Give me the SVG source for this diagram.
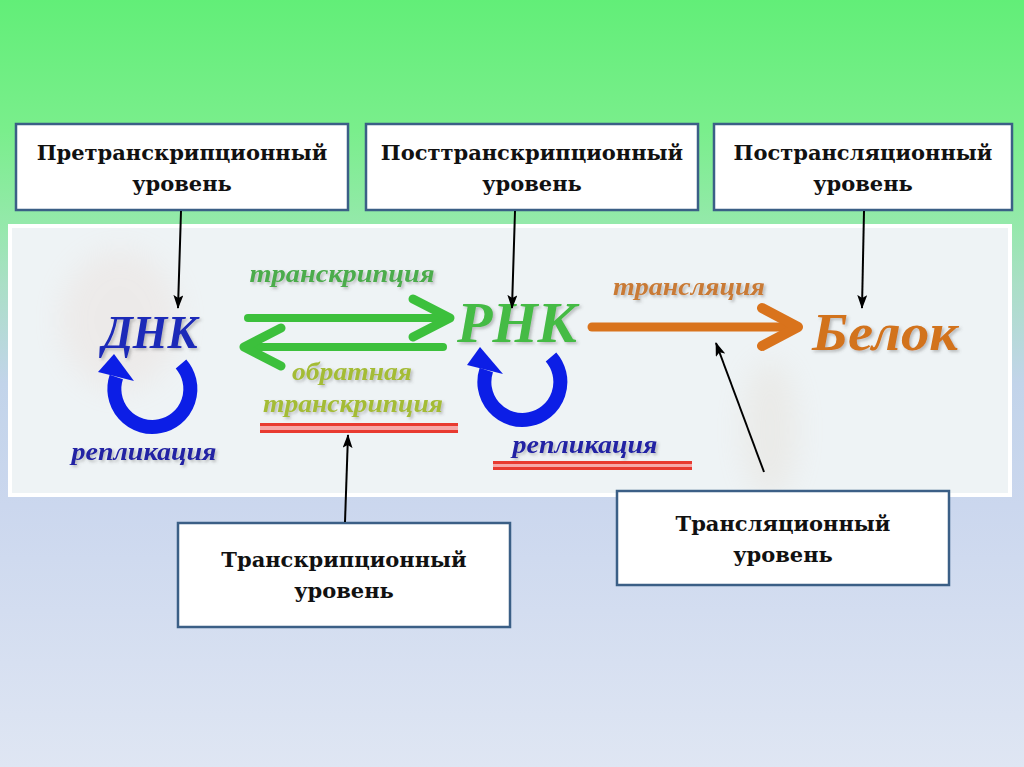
<svg xmlns="http://www.w3.org/2000/svg" width="1024" height="767" viewBox="0 0 1024 767">
<defs>
  <linearGradient id="bg" x1="0" y1="0" x2="0" y2="1">
    <stop offset="0" stop-color="#62ee78"/>
    <stop offset="0.17" stop-color="#7aee8c"/>
    <stop offset="0.29" stop-color="#94e9aa"/>
    <stop offset="0.37" stop-color="#aadfc6"/>
    <stop offset="0.5" stop-color="#c2d4ea"/>
    <stop offset="0.66" stop-color="#cbd7ee"/>
    <stop offset="1" stop-color="#dfe6f3"/>
  </linearGradient>
  <filter id="blur" x="-50%" y="-50%" width="200%" height="200%">
    <feGaussianBlur stdDeviation="14"/>
  </filter>
  <filter id="sh" x="-10%" y="-20%" width="130%" height="150%">
    <feDropShadow dx="2" dy="2" stdDeviation="1.5" flood-color="#555" flood-opacity="0.35"/>
  </filter>
  <marker id="ah" viewBox="0 0 14 10" refX="13" refY="5" markerWidth="14" markerHeight="10" markerUnits="userSpaceOnUse" orient="auto">
    <path d="M0,0 L14,5 L0,10 L3,5 z" fill="#000"/>
  </marker>
  <style>
    .box { fill: #ffffff; stroke: #3b5f86; stroke-width: 2.5; }
    .bt { font-family: "DejaVu Serif", "Liberation Serif", serif; font-weight: bold; font-size: 21px; fill: #111; text-anchor: middle; }
    .it { font-family: "Liberation Serif", "Times New Roman", serif; font-style: italic; font-weight: bold; text-anchor: middle; }
    .conn { stroke: #000; stroke-width: 2; fill: none; marker-end: url(#ah); }
    .ring { fill: none; stroke: #0c1ee6; stroke-width: 14; }
    .ringhead { fill: #0c1ee6; }
    .g { stroke: #3cc03c; fill: none; stroke-linecap: round; stroke-linejoin: round; }
    .o { stroke: #d9731c; fill: none; stroke-linecap: round; stroke-linejoin: round; }
    .ul { fill: #f6a8a8; }
    .ull { stroke: #e83a30; stroke-width: 3; }
  </style>
</defs>

<rect x="0" y="0" width="1024" height="767" fill="url(#bg)"/>

<g id="panel">
  <rect x="10" y="226" width="1000" height="269" fill="#eef3f5" stroke="#ffffff" stroke-width="4"/>
  <g opacity="0.16" filter="url(#blur)">
    <ellipse cx="120" cy="320" rx="60" ry="70" fill="#e6c0b0"/>
    <ellipse cx="770" cy="430" rx="28" ry="70" fill="#d8c0a8"/>
  </g>
</g>

<g id="node-pretranscription">
  <rect class="box" x="16" y="124" width="332" height="86"/>
  <text class="bt" x="182" y="160">Претранскрипционный</text>
  <text class="bt" x="182" y="191">уровень</text>
</g>
<g id="node-posttranscription">
  <rect class="box" x="366" y="124" width="332" height="86"/>
  <text class="bt" x="532" y="160">Посттранскрипционный</text>
  <text class="bt" x="532" y="191">уровень</text>
</g>
<g id="node-posttranslation">
  <rect class="box" x="714" y="124" width="298" height="86"/>
  <text class="bt" x="863" y="160">Пострансляционный</text>
  <text class="bt" x="863" y="191">уровень</text>
</g>
<g id="node-transcription">
  <rect class="box" x="178" y="523" width="332" height="104"/>
  <text class="bt" x="344" y="567">Транскрипционный</text>
  <text class="bt" x="344" y="598">уровень</text>
</g>
<g id="node-translation">
  <rect class="box" x="617" y="491" width="332" height="94"/>
  <text class="bt" x="783" y="531">Трансляционный</text>
  <text class="bt" x="783" y="562">уровень</text>
</g>

<g id="node-dna">
  <text class="it" x="150" y="348" font-size="46" fill="#1c2ab8" textLength="95" lengthAdjust="spacingAndGlyphs" filter="url(#sh)">ДНК</text>
  <path class="ring" d="M181,364 A38,38 0 1 1 116.3,377"/>
  <polygon class="ringhead" points="98,372 134,381 114,354"/>
  <text class="it" x="144" y="460" font-size="26" fill="#2424a4" textLength="145" lengthAdjust="spacingAndGlyphs" filter="url(#sh)">репликация</text>
</g>

<g id="node-rna">
  <text class="it" x="517" y="342" font-size="56" fill="#44bb44" textLength="120" lengthAdjust="spacingAndGlyphs" filter="url(#sh)">РНК</text>
  <path class="ring" d="M551,357 A38,38 0 1 1 486.3,370"/>
  <polygon class="ringhead" points="467,365 503,374 480,347"/>
  <text class="it" x="585" y="453" font-size="26" fill="#2424a4" textLength="145" lengthAdjust="spacingAndGlyphs" filter="url(#sh)">репликация</text>
  <rect class="ul" x="493" y="461" width="199" height="9"/>
  <line class="ull" x1="493" y1="462.5" x2="692" y2="462.5"/>
  <line class="ull" x1="493" y1="468.5" x2="692" y2="468.5"/>
</g>

<g id="node-protein">
  <text class="it" x="885" y="350" font-size="52" fill="#d2731f" textLength="146" lengthAdjust="spacingAndGlyphs" filter="url(#sh)">Белок</text>
</g>

<g id="connectors">
  <path class="g" d="M248,318 H446" stroke-width="8"/>
  <path class="g" d="M413,299 L450,318 L413,337" stroke-width="9"/>
  <text class="it" x="342" y="282" font-size="26" fill="#4cac4c" textLength="185" lengthAdjust="spacingAndGlyphs" filter="url(#sh)">транскрипция</text>
  <path class="g" d="M443,347 H248" stroke-width="8"/>
  <path class="g" d="M281,328 L244,347 L281,366" stroke-width="9"/>
  <text class="it" x="352" y="380" font-size="26" fill="#a4bc36" textLength="120" lengthAdjust="spacingAndGlyphs" filter="url(#sh)">обратная</text>
  <text class="it" x="353" y="412" font-size="26" fill="#a4bc36" textLength="180" lengthAdjust="spacingAndGlyphs" filter="url(#sh)">транскрипция</text>
  <rect class="ul" x="260" y="423" width="198" height="10"/>
  <line class="ull" x1="260" y1="424.5" x2="458" y2="424.5"/>
  <line class="ull" x1="260" y1="431.5" x2="458" y2="431.5"/>
  <path class="o" d="M592,327 H792" stroke-width="9"/>
  <path class="o" d="M762,308 L798,327 L762,346" stroke-width="10"/>
  <text class="it" x="689" y="295" font-size="26" fill="#c97a34" textLength="152" lengthAdjust="spacingAndGlyphs" filter="url(#sh)">трансляция</text>
  <line class="conn" x1="181" y1="211" x2="178" y2="308"/>
  <line class="conn" x1="515" y1="211" x2="512" y2="308"/>
  <line class="conn" x1="864" y1="211" x2="862" y2="308"/>
  <line class="conn" x1="345" y1="522" x2="348" y2="435"/>
  <line class="conn" x1="764" y1="472" x2="716" y2="343"/>
</g>
</svg>
